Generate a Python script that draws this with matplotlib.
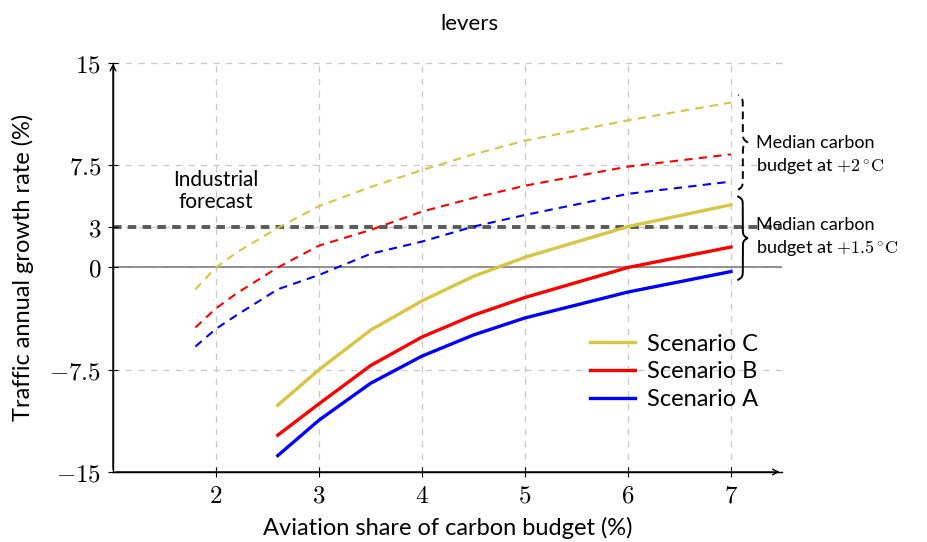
import numpy as np
import matplotlib
matplotlib.use("Agg")
import matplotlib.pyplot as plt

plt.rcParams['font.family'] = ['Lato', 'DejaVu Sans']
plt.rcParams['mathtext.fontset'] = 'cm'

# solid lines (scenarios)
x_solid = [2.6, 3.0, 3.5, 4.0, 4.5, 5.0, 6.0, 7.0]
scen_c = [-10.1, -7.5, -4.6, -2.45, -0.65, 0.75, 3.0, 4.6]
scen_b = [-12.3, -10.0, -7.2, -5.1, -3.5, -2.2, 0.0, 1.5]
scen_a = [-13.8, -11.2, -8.5, -6.5, -4.95, -3.7, -1.8, -0.3]

# dashed lines
x_dash = [1.8, 2.0, 2.2, 2.6, 3.0, 3.5, 4.0, 4.5, 5.0, 6.0, 7.0]
dash_c = [-1.6, 0.0, 1.1, 2.9, 4.5, 5.9, 7.15, 8.3, 9.3, 10.8, 12.1]
dash_b = [-4.4, -3.0, -1.9, 0.0, 1.6, 2.75, 4.1, 5.1, 6.0, 7.4, 8.3]
dash_a = [-5.8, -4.5, -3.5, -1.6, -0.55, 1.0, 1.9, 3.0, 3.85, 5.4, 6.3]

x_ticks = [2, 3, 4, 5, 6, 7]
y_ticks = [-15, -7.5, 0, 3, 7.5, 15]
y_tick_labels = ['$-15$', '$-7.5$', '$0$', '$3$', '$7.5$', '$15$']

forecast_level = 3
c_yellow = '#d8c540'
c_red = '#ff0000'
c_blue = '#0000ff'


def brace(ax, x, y0, y1, width, **kw):
    # curly brace opening to the right, spanning y0..y1
    half = np.linspace(0, 0.5, 200)
    beta = 60
    yh = 1 / (1 + np.exp(-beta * (half - half[0]))) + 1 / (1 + np.exp(-beta * (half - half[-1])))
    prof = np.concatenate((yh, yh[-2::-1])) - 0.5
    t = np.linspace(0, 1, len(prof))
    ax.plot(x + width * prof, y0 + (y1 - y0) * t, clip_on=False, **kw)


fig = plt.figure(figsize=(9.27, 5.42), dpi=100)
ax = fig.add_axes([0.1219, 0.1292, 0.7222, 0.7546])

ax.set_xlim(1, 7.5)
ax.set_ylim(-15, 15)

for xv in x_ticks:
    ax.axvline(xv, color='#c8c8c8', lw=0.9, ls=(0, (5, 5)), zorder=0)
for yv in y_ticks:
    ax.axhline(yv, color='#c8c8c8', lw=0.9, ls=(0, (5, 5)), zorder=0, clip_on=False)

ax.axhline(0, color='#888888', lw=1.3, zorder=1)
ax.axhline(forecast_level, color='#5a5a5a', lw=2.8, ls=(0, (2.2, 1.6)), zorder=1)

ax.plot(x_dash, dash_c, color=c_yellow, lw=1.5, ls=(0, (4, 3)), zorder=2)
ax.plot(x_dash, dash_b, color=c_red, lw=1.5, ls=(0, (4, 3)), zorder=2)
ax.plot(x_dash, dash_a, color=c_blue, lw=1.5, ls=(0, (4, 3)), zorder=2)

ax.plot(x_solid, scen_c, color=c_yellow, lw=2.4, label='Scenario C', zorder=3)
ax.plot(x_solid, scen_b, color=c_red, lw=2.4, label='Scenario B', zorder=3)
ax.plot(x_solid, scen_a, color=c_blue, lw=2.4, label='Scenario A', zorder=3)

ax.spines['top'].set_visible(False)
ax.spines['right'].set_visible(False)
ax.spines['left'].set_linewidth(1.0)
ax.spines['bottom'].set_linewidth(1.0)
ax.annotate('', xy=(1, 1.005), xytext=(1, 0), xycoords=('data', 'axes fraction'),
            arrowprops=dict(arrowstyle='->', lw=1.0, color='black'))
ax.annotate('', xy=(1.0, 0), xytext=(0, 0), xycoords='axes fraction',
            arrowprops=dict(arrowstyle='->', lw=1.0, color='black'))

ax.set_xticks(x_ticks)
ax.set_xticklabels(['$%d$' % v for v in x_ticks])
ax.set_yticks(y_ticks)
ax.set_yticklabels(y_tick_labels)
ax.tick_params(direction='inout', length=7, width=0.8, labelsize=18, pad=5)

ax.set_xlabel('Aviation share of carbon budget (%)', fontsize=17, labelpad=7)
ax.set_ylabel('Traffic annual growth rate (%)', fontsize=17, labelpad=11)
fig.text(0.506, 0.955, 'levers', fontsize=16, ha='center', va='center')

ax.text(2.0, 5.6, 'Industrial\nforecast', ha='center', va='center', fontsize=15, linespacing=1.1)

brace(ax, 7.07, 5.7, 12.65, 0.09, color='black', lw=1.4, ls=(0, (4, 2.5)))
brace(ax, 7.07, -0.9, 5.2, 0.09, color='black', lw=1.4)
ax.text(7.24, 8.2, 'Median carbon\nbudget at $+2\\,^{\\circ}\\mathrm{C}$', fontsize=13,
        va='center', ha='left', linespacing=1.35, clip_on=False)
ax.text(7.24, 2.2, 'Median carbon\nbudget at $+1.5\\,^{\\circ}\\mathrm{C}$', fontsize=13,
        va='center', ha='left', linespacing=1.35, clip_on=False)

ax.legend(loc='lower right', bbox_to_anchor=(0.995, 0.10), frameon=False, fontsize=17,
          handlelength=1.9, handletextpad=0.5, labelspacing=0.28)

fig.savefig('out.png', dpi=100)
